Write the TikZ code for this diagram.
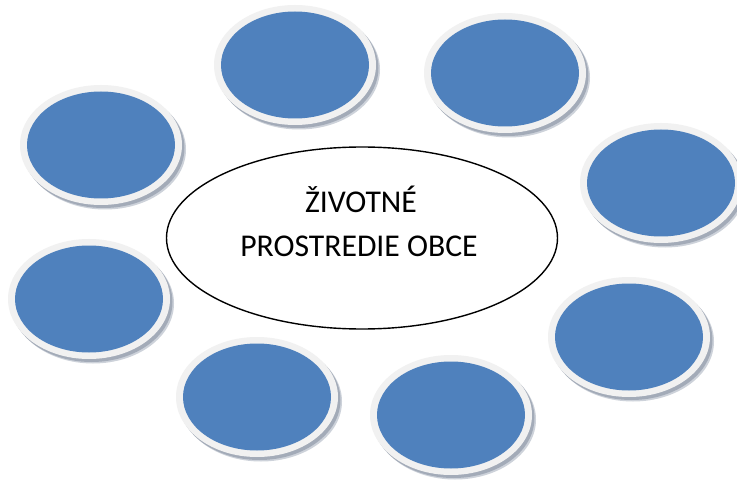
\documentclass[tikz,border=0pt]{standalone}
\usepackage{fontspec}
\setmainfont{Carlito}
\usetikzlibrary{shapes.geometric}
\definecolor{ovalblue}{HTML}{4F81BD}
\definecolor{ringgray}{HTML}{F1F1F1}
\definecolor{shadowgray}{HTML}{A3ABB8}
\definecolor{shadowlight}{HTML}{CDD2DA}
\tikzset{
  blueoval/.style={ellipse, fill=ovalblue, minimum width=148pt, minimum height=107pt, inner sep=0pt},
  centeroval/.style={ellipse, draw=black, line width=1.4pt, fill=white, minimum width=391pt, minimum height=182pt, inner sep=0pt},
  label/.style={font=\fontsize{31.7pt}{38pt}\selectfont, inner sep=0pt, anchor=base}
}
\begin{document}
\begin{tikzpicture}[x=1pt,y=-1pt]
\useasboundingbox (0,0) rectangle (737,484);
\fill[white] (0,0) rectangle (737,484);
\foreach \n/\cx/\cy in {ov1/101/145, ov2/295/65, ov3/505/73, ov4/661/183, ov5/89/299, ov6/257/397, ov7/451/415, ov8/629/337} {
  \fill[shadowlight] (\cx+4,\cy+4.5) ellipse [x radius=81pt, y radius=60pt];
  \fill[shadowgray] (\cx+2.5,\cy+3) ellipse [x radius=81pt, y radius=60pt];
  \fill[ringgray] (\cx,\cy) ellipse [x radius=81pt, y radius=60pt];
  \node[blueoval] (\n) at (\cx,\cy) {};
}
\node[centeroval] (c) at (362,238) {};
\node[label] (l1) at (361,212) {ŽIVOTNÉ};
\node[label] (l2) at (359,256) {PROSTREDIE OBCE};
\end{tikzpicture}
\end{document}
